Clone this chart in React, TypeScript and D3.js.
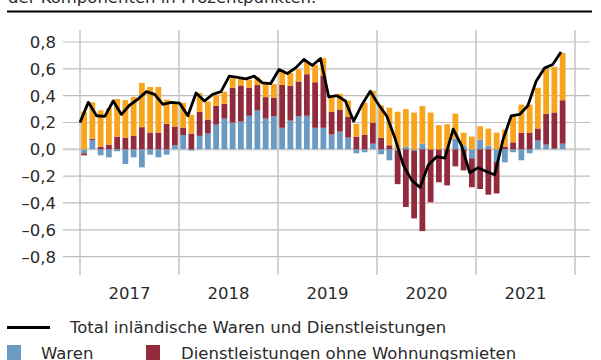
import React from "react";
import * as d3 from "d3";

const years = ["2017", "2018", "2019", "2020", "2021"];
const yTicks = [0.8, 0.6, 0.4, 0.2, 0, -0.2, -0.4, -0.6, -0.8];

const goods = [
  -0.03, 0.07, -0.045, -0.06, -0.015, -0.11, -0.06, -0.135, -0.04, -0.06, -0.04, 0.03,
  0.107, -0.01, 0.1, 0.117, 0.184, 0.229, 0.2, 0.206, 0.25, 0.289, 0.229, 0.246,
  0.16, 0.214, 0.246, 0.25, 0.16, 0.16, 0.11, 0.132, 0.087, -0.03, -0.022, 0.042,
  -0.037, -0.082, -0.01, 0.02, -0.01, 0.042, 0.0, 0.0, 0.0, 0.08, 0.027, -0.067,
  0.072, 0.027, -0.095, -0.097, -0.022, -0.082, -0.03, 0.065, 0.035, 0.005, 0.042,
];
const services = [
  -0.015, 0.01, 0.02, 0.035, 0.095, 0.087, 0.1, 0.165, 0.125, 0.125, 0.19, 0.14,
  0.055, 0.117, 0.18, 0.105, 0.14, 0.11, 0.26, 0.27, 0.21, 0.19, 0.16, 0.14,
  0.32, 0.26, 0.26, 0.31, 0.34, 0.39, 0.17, 0.165, 0.157, 0.095, 0.11, 0.157,
  0.087, 0.03, -0.25, -0.43, -0.505, -0.61, -0.395, -0.246, -0.269, -0.127, -0.157, -0.216,
  -0.296, -0.338, -0.234, 0.02, 0.052, 0.124, 0.124, 0.09, 0.23, 0.27, 0.324,
];
const rents = [
  0.28, 0.27, 0.27, 0.27, 0.28, 0.28, 0.29, 0.33, 0.34, 0.34, 0.18, 0.175,
  0.184, 0.14, 0.14, 0.135, 0.08, 0.09, 0.07, 0.06, 0.06, 0.06, 0.1, 0.1,
  0.11, 0.095, 0.09, 0.09, 0.13, 0.13, 0.12, 0.117, 0.12, 0.095, 0.238, 0.238,
  0.24, 0.28, 0.28, 0.28, 0.274, 0.28, 0.274, 0.18, 0.187, 0.186, 0.097, 0.095,
  0.1, 0.127, 0.124, 0.127, 0.207, 0.209, 0.209, 0.304, 0.34, 0.34, 0.353,
];
const total = [
  0.2, 0.35, 0.25, 0.245, 0.36, 0.26, 0.33, 0.375, 0.43, 0.41, 0.335, 0.35,
  0.345, 0.25, 0.42, 0.36, 0.41, 0.43, 0.545, 0.537, 0.525, 0.545, 0.495, 0.49,
  0.595, 0.565, 0.607, 0.67, 0.625, 0.677, 0.39, 0.4, 0.36, 0.21, 0.333, 0.433,
  0.333, 0.246, 0.08, -0.12, -0.23, -0.285, -0.117, -0.055, -0.065, 0.15, 0.03, -0.175,
  -0.137, -0.165, -0.19, 0.07, 0.25, 0.26, 0.325, 0.507, 0.605, 0.632, 0.726,
];

const COLORS = { goods: "#6b9bc3", services: "#922c3d", rents: "#f8a51d" };
const FONT = "'DejaVu Sans', sans-serif";
const FS = 16.5;
const TXT = "#2a2a2a";

export default function App() {
  const W = 601, H = 360;
  const x0 = 80, x1 = 575;
  const y = d3.scaleLinear().domain([-0.8, 0.8]).range([256.6, 42]);
  const slots = d3.range(years.length * 12);
  const xb = d3.scaleBand<number>().domain(slots).range([x0, x1]).paddingInner(0.3).paddingOuter(0.15);
  const xl = d3.scaleLinear().domain([0, total.length - 1]).range([x0, 561]);
  const yearX = d3.scaleBand<string>().domain(years).range([x0, x1]);

  const series = [
    { key: "goods", vals: goods },
    { key: "services", vals: services },
    { key: "rents", vals: rents },
  ];
  const rects: { x: number; y: number; h: number; c: string; k: string }[] = [];
  for (let i = 0; i < total.length; i++) {
    let pos = 0, neg = 0;
    for (const s of series) {
      const v = s.vals[i];
      if (v >= 0) {
        rects.push({ x: xb(i)!, y: y(pos + v), h: y(pos) - y(pos + v), c: (COLORS as any)[s.key], k: s.key + i });
        pos += v;
      } else {
        rects.push({ x: xb(i)!, y: y(neg), h: y(neg + v) - y(neg), c: (COLORS as any)[s.key], k: s.key + i });
        neg += v;
      }
    }
  }
  const line = d3.line<number>().x((_, i) => xl(i)).y((d) => y(d));
  const fmt = (v: number) => (v < 0 ? "\u2013" : "") + Math.abs(v).toFixed(1).replace(".", ",");

  return (
    <svg width={W} height={H} style={{ position: "absolute", left: 0, top: 0, background: "#fff" }} fontFamily={FONT}>
      <text x={8} y={3} fontSize={FS} fill={TXT}>der Komponenten in Prozentpunkten.</text>
      <line x1={7} x2={592} y1={11.5} y2={11.5} stroke="#000" strokeWidth={2} />
      {yTicks.map((t) => (
        <g key={t}>
          <line x1={63} x2={590} y1={y(t)} y2={y(t)} stroke={t === 0 ? "#d6d6d6" : "#bdbdbd"} strokeWidth={t === 0 ? 2.5 : 1.2} />
          <text x={56} y={y(t)} dy="0.36em" textAnchor="end" fontSize={FS} fill={TXT}>{fmt(t)}</text>
        </g>
      ))}
      {d3.range(years.length + 1).map((i) => (
        <line key={i} x1={x0 + i * yearX.bandwidth()} x2={x0 + i * yearX.bandwidth()} y1={30} y2={275} stroke="#c4c4c4" strokeWidth={1.5} />
      ))}
      {rects.map((r) => (
        <rect key={r.k} x={r.x} y={r.y} width={xb.bandwidth()} height={Math.max(0, r.h)} fill={r.c} />
      ))}
      <path d={line(total) || ""} fill="none" stroke="#000" strokeWidth={2.8} strokeLinejoin="round" />
      {years.map((yr) => (
        <text key={yr} x={yearX(yr)! + yearX.bandwidth() / 2} y={293} dy="0.36em" textAnchor="middle" fontSize={FS} fill={TXT}>{yr}</text>
      ))}
      <line x1={7} x2={50} y1={327.5} y2={327.5} stroke="#000" strokeWidth={2.8} />
      <text x={70} y={327.5} dy="0.36em" fontSize={FS} fill={TXT}>Total inländische Waren und Dienstleistungen</text>
      <rect x={7} y={345} width={14} height={16} fill={COLORS.goods} />
      <text x={41} y={359} fontSize={FS} fill={TXT}>Waren</text>
      <rect x={146} y={345} width={14} height={16} fill={COLORS.services} />
      <text x={181} y={359} fontSize={FS} fill={TXT}>Dienstleistungen ohne Wohnungsmieten</text>
    </svg>
  );
}
